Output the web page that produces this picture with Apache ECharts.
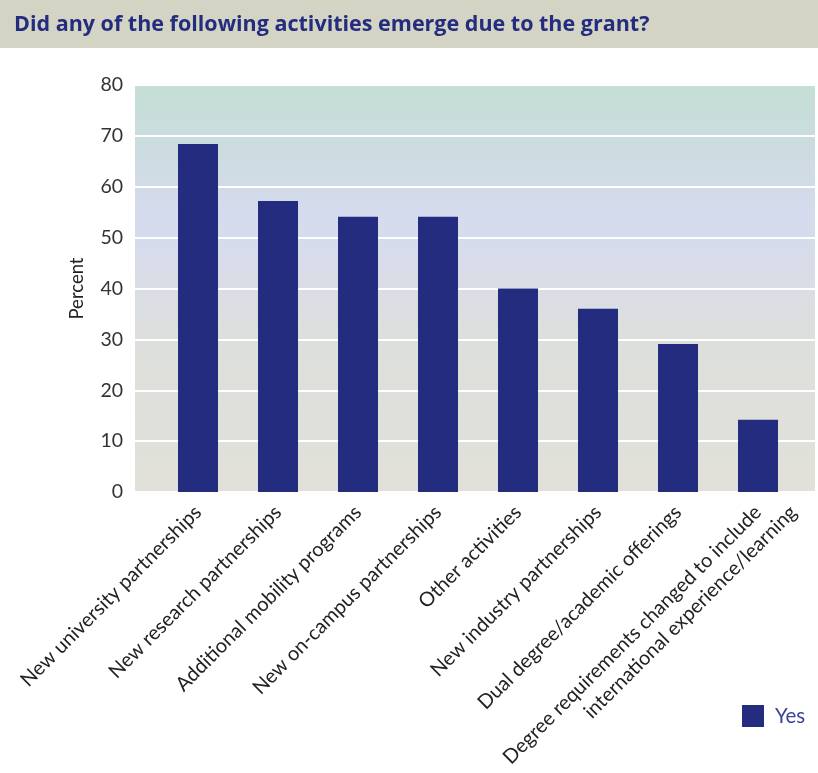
<!DOCTYPE html>
<html>
<head>
<meta charset="utf-8">
<script src="https://cdn.jsdelivr.net/npm/echarts@6/dist/echarts.min.js"></script>
<style>
  html, body { margin: 0; padding: 0; background: #ffffff; }
  #chart { width: 818px; height: 773px; }
</style>
</head>
<body>
<div id="chart"></div>
<script>
// Survey question and answers
const chartTitle = 'Did any of the following activities emerge due to the grant?';
const categories = [
  'New university partnerships',
  'New research partnerships',
  'Additional mobility programs',
  'New on-campus partnerships',
  'Other activities',
  'New industry partnerships',
  'Dual degree/academic offerings',
  'Degree requirements changed to include\ninternational experience/learning'
];
const yesValues = [68.4, 57.2, 54.1, 54.1, 40.0, 36.0, 29.1, 14.2];
const seriesName = 'Yes';
const axisName = 'Percent';

const navy = '#232c7f';
const labelFont = { family: 'Lato', size: 20, lineHeight: 25 };
const chart = echarts.init(document.getElementById('chart'), null, { renderer: 'canvas' });

// Wrapped category labels: every line ends on the same horizontal level below the axis,
// so the second line is pushed further along the slanted baseline by one line step.
const measureCtx = document.createElement('canvas').getContext('2d');
measureCtx.font = labelFont.size + 'px ' + labelFont.family;
function textWidth(s) { return measureCtx.measureText(s).width; }
const wrapped = categories.find(function (c) { return c.indexOf('\n') >= 0; }) || 'a\nb';
const wrapLines = wrapped.split('\n');
const secondLineIndent = textWidth(wrapLines[0]) - textWidth(wrapLines[1]) + labelFont.lineHeight;

const baseRich = { fontFamily: labelFont.family, fontSize: labelFont.size, color: '#222222', lineHeight: labelFont.lineHeight };

const plotTop = 85, plotHeight = 407;

chart.setOption({
  animation: false,
  graphic: [{
    type: 'rect', left: 0, top: 0, z: -10,
    shape: { width: 818, height: 48 },
    style: { fill: '#d3d4c4' }
  }],
  title: {
    text: chartTitle, left: 9, top: 9,
    textStyle: { fontFamily: 'Open Sans', fontWeight: 'bold', fontSize: 21.5, color: navy }
  },
  legend: {
    data: [seriesName], left: 737, top: 700,
    itemWidth: 22, itemHeight: 22, itemGap: 11,
    icon: 'rect',
    textStyle: { fontFamily: 'Lato', fontSize: 20.5, color: '#3a4596', padding: [0, 0, 0, 6] }
  },
  grid: [
    { // shaded panel with the percentage scale
      left: 135, top: plotTop, width: 680, height: plotHeight,
      outerBoundsMode: 'none', containLabel: false,
      show: true, borderWidth: 0,
      backgroundColor: {
        type: 'linear', x: 0, y: 0, x2: 0, y2: 1,
        colorStops: [
          { offset: 0, color: '#c5dfd7' },
          { offset: 0.14, color: '#cbdcde' },
          { offset: 0.32, color: '#d5dbee' },
          { offset: 0.45, color: '#d8dce8' },
          { offset: 0.62, color: '#dddfdc' },
          { offset: 1, color: '#e1e1d9' }
        ]
      }
    },
    { // bars and category labels
      left: 158, top: plotTop, width: 640, height: plotHeight,
      outerBoundsMode: 'none', containLabel: false
    }
  ],
  xAxis: [
    { gridIndex: 0, type: 'value', show: false, min: 0, max: 1 },
    {
      gridIndex: 1, type: 'category', data: categories,
      axisLine: { show: false }, axisTick: { show: false },
      axisLabel: {
        interval: 0, rotate: 45, margin: 17,
        formatter: function (v) {
          const lines = v.split('\n');
          if (lines.length === 1) return '{a|' + v + '}';
          // blank line on top keeps the first line centred on the tick
          return '{a| }\n{a|' + lines[0] + '}\n{b|' + lines[1] + '}';
        },
        rich: {
          a: baseRich,
          b: Object.assign({}, baseRich, { align: 'left', width: 1, padding: [0, 0, 0, secondLineIndent] })
        }
      }
    }
  ],
  yAxis: [
    {
      gridIndex: 0, type: 'value', min: 0, max: 80, interval: 10,
      name: axisName, nameLocation: 'middle', nameGap: 48,
      nameTextStyle: { fontFamily: 'Lato', fontSize: 18.5, color: '#222222' },
      axisLine: { show: false }, axisTick: { show: false },
      axisLabel: { margin: 12, fontFamily: 'Lato', fontSize: 19.5, color: '#333333' },
      splitLine: { show: true, lineStyle: { color: '#ffffff', width: 2 } }
    },
    {
      gridIndex: 1, type: 'value', min: 0, max: 80, show: false,
      splitLine: { show: false }
    }
  ],
  series: [{
    name: seriesName, type: 'bar',
    xAxisIndex: 1, yAxisIndex: 1,
    data: yesValues, barWidth: 40,
    itemStyle: { color: navy }
  }]
});
</script>
</body>
</html>
